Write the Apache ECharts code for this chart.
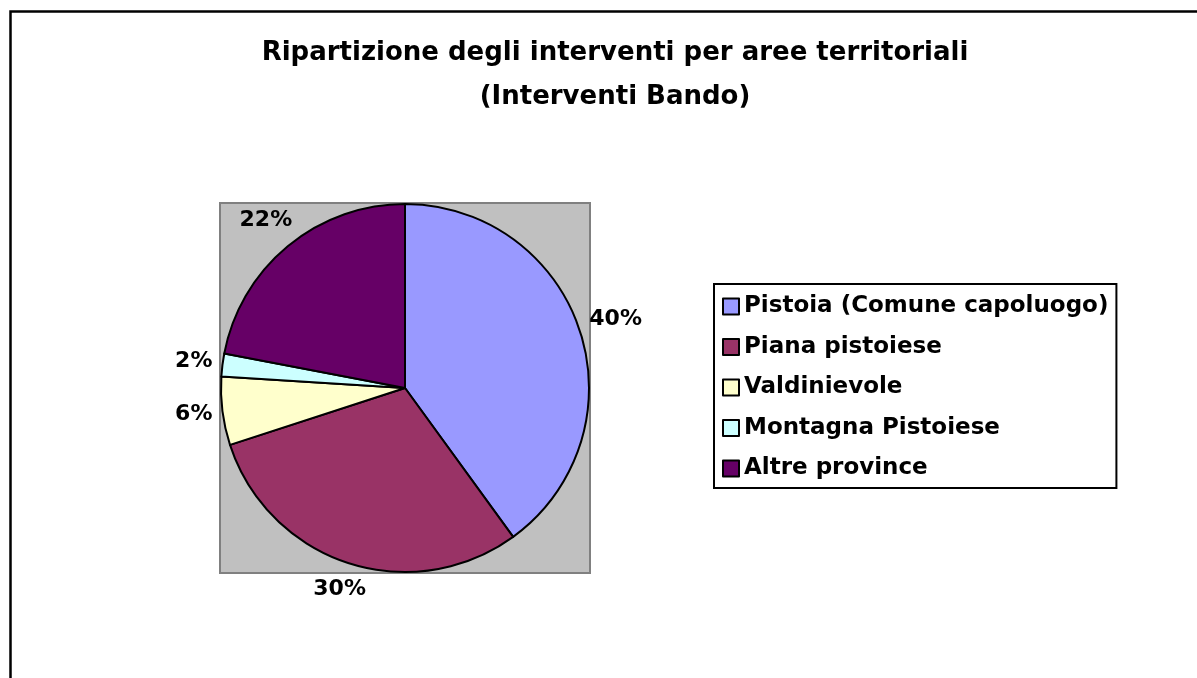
<!DOCTYPE html>
<html>
<head>
<meta charset="utf-8">
<script src="https://cdn.jsdelivr.net/npm/echarts@6/dist/echarts.min.js"></script>
<style>
    html, body { margin: 0; padding: 0; background: #fff; }
    #chart { width: 1197px; height: 678px; }
</style>
</head>
<body>
<div id="chart"></div>
<script>
// dati
var aree = ['Pistoia (Comune capoluogo)', 'Piana pistoiese', 'Valdinievole', 'Montagna Pistoiese', 'Altre province']
var percentuali = [40, 30, 6, 2, 22]
var colori = ['#9999FF', '#993366', '#FFFFCC', '#CCFFFF', '#660066']

var titolo = 'Ripartizione degli interventi per aree territoriali\n(Interventi Bando)'

var font = 'DejaVu Sans'
var cx = 405, cy = 388, raggio = 184

// angolo medio di ogni fetta (da ore 12, senso orario)
var totale = percentuali.reduce(function (a, b) { return a + b }, 0)
var angoliMedi = []
var acc = 0
percentuali.forEach(function (v) {
    angoliMedi.push((acc + v / 2) / totale * Math.PI * 2)
    acc += v
})

var chart = echarts.init(document.getElementById('chart'))

chart.setOption({
    backgroundColor: '#fff',
    animation: false,
    title: {
        text: titolo,
        left: 610,
        top: 26,
        textAlign: 'center',
        textStyle: {
            fontFamily: font,
            fontSize: 26,
            fontWeight: 'bold',
            color: '#000',
            lineHeight: 44
        }
    },
    legend: {
        orient: 'vertical',
        left: 714,
        top: 284,
        itemWidth: 16,
        itemHeight: 16,
        itemGap: 17.5,
        padding: [11, 8, 8, 8],
        borderColor: '#000',
        borderWidth: 2,
        icon: 'rect',
        data: aree,
        textStyle: {
            fontFamily: font,
            fontSize: 23,
            fontWeight: 'bold',
            color: '#000',
            lineHeight: 22
        }
    },
    graphic: [
        {
            // cornice esterna
            type: 'rect',
            z: -10,
            shape: { x: 10.5, y: 11.5, width: 1250, height: 760 },
            style: { fill: 'none', stroke: '#000', lineWidth: 2.5 }
        },
        {
            // area del tracciato
            type: 'rect',
            z: -5,
            shape: { x: cx - raggio - 1, y: cy - raggio - 1, width: raggio * 2 + 2, height: raggio * 2 + 2 },
            style: { fill: '#C0C0C0', stroke: '#808080', lineWidth: 2 }
        }
    ],
    series: [{
        type: 'pie',
        center: [cx, cy],
        radius: raggio,
        startAngle: 90,
        clockwise: true,
        data: aree.map(function (nome, i) {
            return {
                name: nome,
                value: percentuali[i],
                itemStyle: { color: colori[i] }
            }
        }),
        itemStyle: {
            borderColor: '#000',
            borderWidth: 2
        },
        label: {
            show: true,
            position: 'outside',
            formatter: function (p) {
                return Math.round(p.percent) + '%'
            },
            fontFamily: font,
            fontSize: 22,
            fontWeight: 'bold',
            color: '#000'
        },
        labelLine: { show: false },
        emphasis: { disabled: true },
        labelLayout: function (params) {
            var a = angoliMedi[params.dataIndex]
            var ux = Math.sin(a), uy = -Math.cos(a)
            var w = params.labelRect.width, h = params.labelRect.height
            var d = raggio + 9 + Math.abs(ux) * w / 2 + Math.abs(uy) * h / 2
            return {
                x: cx + ux * d,
                y: cy + uy * d,
                align: 'center',
                verticalAlign: 'middle'
            }
        }
    }]
})
</script>
</body>
</html>
